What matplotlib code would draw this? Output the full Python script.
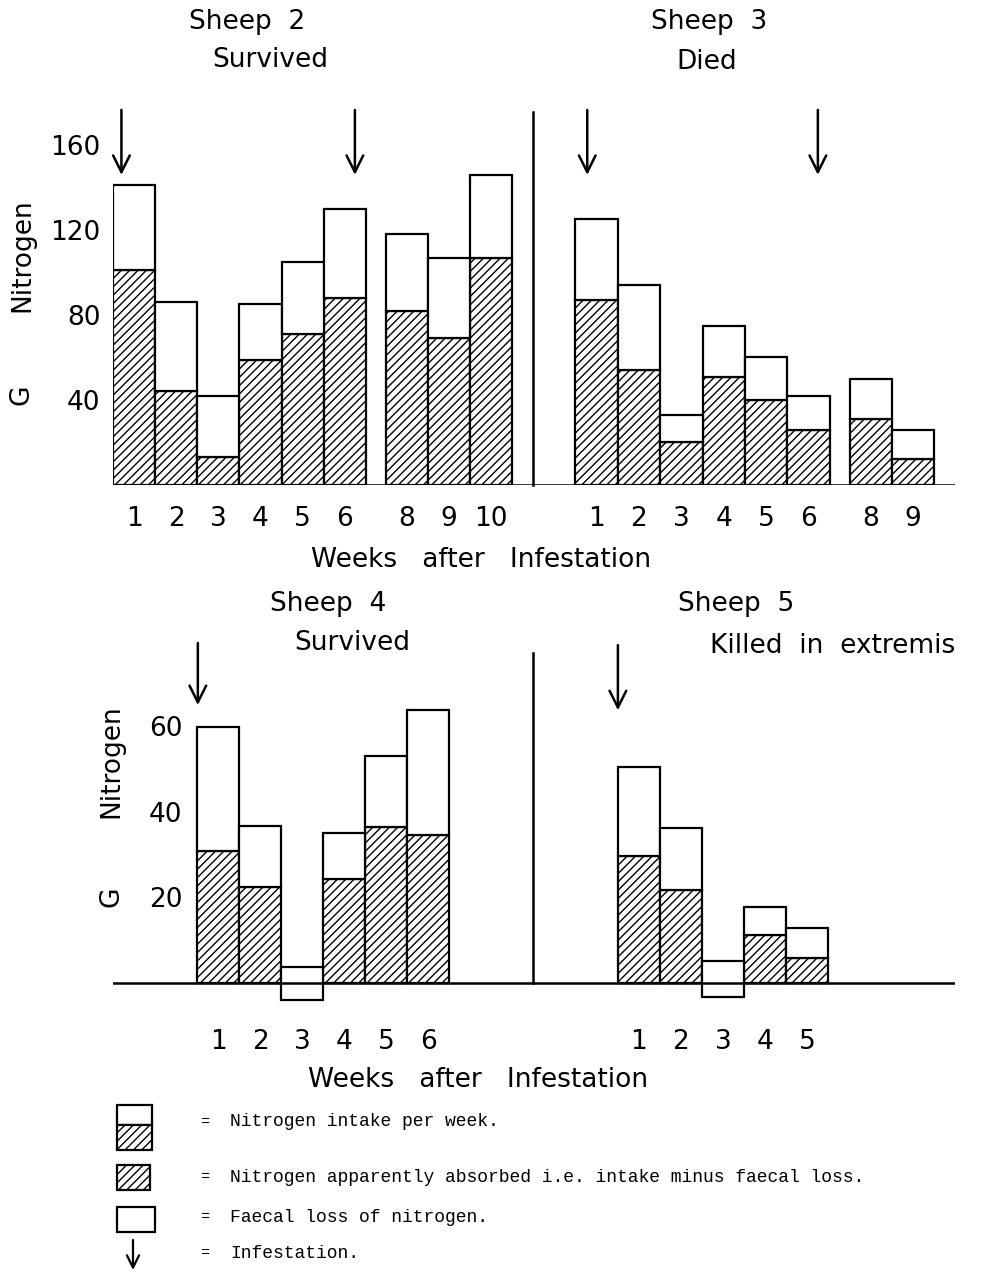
import numpy as np
import matplotlib
matplotlib.use("Agg")
import matplotlib.pyplot as plt
from matplotlib.patches import Rectangle

W, H, DPI = 981, 1270, 100

# ---- data (g nitrogen per week) ----
sheep2_weeks = [1, 2, 3, 4, 5, 6, 8, 9, 10]
sheep2_intake = [141, 86, 42, 85, 105, 130, 118, 107, 146]
sheep2_absorbed = [101, 44, 13, 59, 71, 88, 82, 69, 107]
sheep2_infest = [0.70, 6.24]

sheep3_weeks = [1, 2, 3, 4, 5, 6, 8, 9]
sheep3_intake = [125, 94, 33, 75, 60, 42, 50, 26]
sheep3_absorbed = [87, 54, 20, 51, 40, 26, 31, 12]
sheep3_infest = [0.78, 6.22]

sheep4_weeks = [1, 2, 3, 4, 5, 6]
sheep4_intake = [59.8, 36.7, 3.7, 35.0, 53.0, 63.8]
sheep4_absorbed = [30.8, 22.4, -4.0, 24.3, 36.4, 34.6]
sheep4_infest = [0.51]

sheep5_weeks = [1, 2, 3, 4, 5]
sheep5_intake = [50.4, 36.2, 5.1, 17.7, 12.8]
sheep5_absorbed = [29.7, 21.7, -3.3, 11.2, 5.8]
sheep5_infest = [0.50]

top_yticks = [40, 80, 120, 160]
bottom_yticks = [20, 40, 60]

GAP = 0.47  # small space where week 7 is missing

plt.rcParams['font.family'] = ['DejaVu Sans']
plt.rcParams['hatch.linewidth'] = 1.0

fig = plt.figure(figsize=(W / DPI, H / DPI), dpi=DPI)


def px_axes(x0, x1, y0, y1):
    return fig.add_axes([x0 / W, 1 - y1 / H, (x1 - x0) / W, (y1 - y0) / H])


def week_pos(w):
    # week 7 was not measured: later weeks close up, leaving only a small gap
    w = np.asarray(w, dtype=float)
    return np.where(w > 7, w - 2 + GAP, w - 1)


def draw_sheep(ax, weeks, intake, absorbed, infest, arrow_y):
    pos = week_pos(weeks)
    intake = np.asarray(intake, dtype=float)
    absorbed = np.asarray(absorbed, dtype=float)
    # hatched part = apparently absorbed
    ax.bar(pos, np.clip(absorbed, 0, None), width=1.0, facecolor='white',
           edgecolor='black', hatch='////', lw=1.6, zorder=2)
    # open part = faecal loss
    ax.bar(pos, intake - absorbed, bottom=absorbed, width=1.0,
           facecolor='white', edgecolor='black', lw=1.6, zorder=2)
    ax.axhline(0, color='black', lw=1.8, zorder=3)
    for p in week_pos(infest):
        ax.annotate('', xy=(p, arrow_y[1]), xytext=(p, arrow_y[0]),
                    arrowprops=dict(arrowstyle='->', lw=1.8, color='black',
                                    mutation_scale=30, shrinkA=0, shrinkB=0),
                    annotation_clip=False)
    ax.set_xticks(pos)
    ax.set_xticklabels([str(w) for w in weeks])
    for s in ax.spines.values():
        s.set_visible(False)
    ax.set_yticks([])
    ax.patch.set_alpha(0)


# ---- top row ----
ax2 = px_axes(113, 533, 105, 485)
ax2.set_xlim(-0.5, 9.466)
ax2.set_ylim(0, 178.8)
draw_sheep(ax2, sheep2_weeks, sheep2_intake, sheep2_absorbed, sheep2_infest, (176.5, 145.9))
ax2.set_yticks(top_yticks)
ax2.set_yticklabels([str(v) for v in top_yticks])

ax3 = px_axes(533, 955, 105, 485)
ax3.set_xlim(-1.5, 8.455)
ax3.set_ylim(0, 178.8)
draw_sheep(ax3, sheep3_weeks, sheep3_intake, sheep3_absorbed, sheep3_infest, (176.5, 145.9))
ax3.spines['left'].set_visible(True)
ax3.spines['left'].set_bounds(0, 175.5)
ax3.spines['left'].set_linewidth(1.8)

for ax in (ax2, ax3):
    ax.tick_params(axis='x', length=0, pad=15, labelsize=19)
ax2.tick_params(axis='y', length=0, pad=9, labelsize=19)

# ---- bottom row ----
ax4 = px_axes(113, 533, 640, 1010)
ax4.set_xlim(-2.51, 7.49)
ax4.set_ylim(-6.3, 80.1)
draw_sheep(ax4, sheep4_weeks, sheep4_intake, sheep4_absorbed, sheep4_infest, (79.4, 64.9))
ax4.set_yticks(bottom_yticks)
ax4.set_yticklabels([str(v) for v in bottom_yticks])

ax5 = px_axes(533, 955, 640, 1010)
ax5.set_xlim(-2.52, 7.52)
ax5.set_ylim(-6.3, 80.1)
draw_sheep(ax5, sheep5_weeks, sheep5_intake, sheep5_absorbed, sheep5_infest, (78.9, 63.7))
ax5.spines['left'].set_visible(True)
ax5.spines['left'].set_bounds(0, 77)
ax5.spines['left'].set_linewidth(1.8)

for ax in (ax4, ax5):
    ax.tick_params(axis='x', length=0, pad=14, labelsize=19)
ax4.tick_params(axis='y', length=0, pad=-50, labelsize=19)


# ---- text ----
def ftext(x, y, s, **kw):
    kw.setdefault('fontsize', 19)
    kw.setdefault('ha', 'center')
    kw.setdefault('va', 'center')
    fig.text(x / W, 1 - y / H, s, **kw)


ftext(247, 22, 'Sheep  2')
ftext(270, 60, 'Survived')
ftext(709, 22, 'Sheep  3')
ftext(707, 62, 'Died')
ftext(481, 560, 'Weeks   after   Infestation')

ftext(328, 604, 'Sheep  4')
ftext(352, 643, 'Survived')
ftext(736, 604, 'Sheep  5')
ftext(833, 646, 'Killed  in  extremis')
ftext(478, 1080, 'Weeks   after   Infestation')

ftext(22, 255, 'Nitrogen', rotation=90)
ftext(22, 395, 'G', rotation=90)
ftext(111, 761, 'Nitrogen', rotation=90)
ftext(111, 897, 'G', rotation=90)

# ---- key ----
lax = px_axes(100, 981, 1095, 1270)
lax.set_xlim(100, 981)
lax.set_ylim(1270, 1095)
lax.axis('off')
lax.add_patch(Rectangle((117, 1105), 35, 20, facecolor='white', edgecolor='black', lw=1.6))
lax.add_patch(Rectangle((117, 1125), 35, 25, facecolor='white', edgecolor='black',
                        hatch='////', lw=1.6))
lax.add_patch(Rectangle((117, 1165), 33, 25, facecolor='white', edgecolor='black',
                        hatch='////', lw=1.6))
lax.add_patch(Rectangle((117, 1207), 38, 25, facecolor='white', edgecolor='black', lw=1.6))
lax.annotate('', xy=(133, 1270), xytext=(133, 1240),
             arrowprops=dict(arrowstyle='->', lw=1.6, color='black',
                             mutation_scale=22, shrinkA=0, shrinkB=0),
             annotation_clip=False)

key_rows = [1122, 1177, 1217, 1253]
key_texts = ['Nitrogen intake per week.',
             'Nitrogen apparently absorbed i.e. intake minus faecal loss.',
             'Faecal loss of nitrogen.',
             'Infestation.']
for y, t in zip(key_rows, key_texts):
    lax.text(200, y, '=', fontsize=11, family='Liberation Mono', va='center')
    lax.text(230, y, t, fontsize=13, family='Liberation Mono', va='center')

fig.savefig('out.png', dpi=DPI)
